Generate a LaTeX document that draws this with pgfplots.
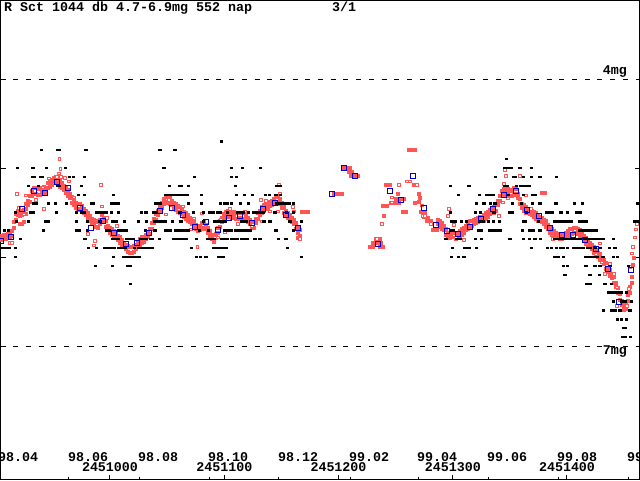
\documentclass[border=0pt]{standalone}
\usepackage{pgfplots}
\pgfplotsset{compat=1.18}
\usepackage{fontspec}
\newfontfamily\pix{Liberation Mono}
\definecolor{rfill}{RGB}{255,85,85}
\definecolor{bsq}{RGB}{0,0,200}
\pgfdeclareplotmark{bdot}{\pgfpathrectangle{\pgfpoint{-1.6pt}{-1.2pt}}{\pgfpoint{3.2pt}{2.4pt}}\pgfusepathqfill}
\pgfdeclareplotmark{rdot}{\pgfpathrectangle{\pgfpoint{-2pt}{-2pt}}{\pgfpoint{4pt}{4pt}}\pgfusepathqfill}
\begin{document}
\begin{tikzpicture}
\useasboundingbox[fill=white] (0,0) rectangle (640pt,480pt);
\begin{axis}[
  at={(0.5pt,0.5pt)}, anchor=south west,
  scale only axis, width=639pt, height=479pt,
  xmin=-95.85, xmax=463.5, ymin=3.118, ymax=8.5, y dir=reverse,
  axis line style={line width=1pt},
  xtick={0,100,200,300,400}, xticklabels={},
  ytick={5,6}, yticklabels={},
  xtick pos=left, ytick pos=both,
  tick align=inside,
  major tick length=5pt,
  tick style={line width=1pt, black},
  extra x ticks={-35.9,25.4,86.7,147.9,210.1,269.9,331.1,392.4,453.7},
  extra x tick labels={},
  extra x tick style={major tick length=3pt, tick style={line width=1pt, black}},
  clip=true,
]
% reference lines 4mg and 7mg
\addplot[black, line width=1pt, dash pattern=on 5pt off 7.7pt, forget plot] coordinates {(-95.85,4) (463.5,4)};
\addplot[black, line width=1pt, dash pattern=on 5pt off 7.7pt, forget plot] coordinates {(-95.85,7) (463.5,7)};

% red filled observations
\addplot[only marks, mark=rdot, color=rfill] coordinates {
(-96.3,5.76)(-96.3,5.81)(-94.5,5.76)(-94.5,5.81)(-92.8,5.75)(-92.8,5.80)(-91.0,5.75)(-91.0,5.80)(-89.3,5.74)(-89.3,5.79)(-87.5,5.73)(-87.5,5.78)(-85.8,5.71)(-85.8,5.76)(-84.0,5.61)(-84.0,5.67)(-82.3,5.52)(-82.3,5.58)(-80.5,5.48)(-80.5,5.53)(-78.8,5.49)(-78.8,5.54)(-78.8,5.63)(-77.0,5.48)(-77.0,5.53)(-77.0,5.63)(-75.3,5.47)(-75.3,5.52)(-75.3,5.61)(-73.5,5.40)(-73.5,5.46)(-73.5,5.52)(-71.8,5.37)(-71.8,5.42)(-70.0,5.32)(-70.0,5.38)(-68.3,5.26)(-68.3,5.32)(-66.5,5.23)(-66.5,5.29)(-64.8,5.23)(-64.8,5.29)(-63.0,5.24)(-63.0,5.30)(-61.3,5.24)(-61.3,5.30)(-59.5,5.22)(-59.5,5.28)(-57.8,5.21)(-57.8,5.27)(-56.0,5.22)(-56.0,5.28)(-54.3,5.17)(-54.3,5.23)(-52.5,5.15)(-52.5,5.21)(-50.8,5.13)(-50.8,5.19)(-49.0,5.11)(-49.0,5.16)(-47.3,5.10)(-47.3,5.15)(-45.5,5.12)(-45.5,5.17)(-43.8,5.15)(-43.8,5.21)(-42.0,5.17)(-42.0,5.23)(-40.3,5.20)(-40.3,5.25)(-38.5,5.22)(-38.5,5.28)(-36.8,5.25)(-36.8,5.31)(-35.0,5.29)(-35.0,5.34)(-33.3,5.33)(-33.3,5.39)(-31.5,5.37)(-31.5,5.42)(-29.8,5.39)(-29.8,5.45)(-28.0,5.40)(-28.0,5.46)(-26.3,5.41)(-26.3,5.47)(-24.5,5.43)(-24.5,5.49)(-22.8,5.46)(-22.8,5.51)(-21.0,5.48)(-21.0,5.53)(-19.3,5.51)(-19.3,5.57)(-17.5,5.54)(-17.5,5.60)(-15.8,5.57)(-15.8,5.62)(-14.0,5.58)(-14.0,5.63)(-12.3,5.60)(-12.3,5.66)(-10.5,5.61)(-10.5,5.67)(-8.8,5.58)(-8.8,5.63)(-7.0,5.53)(-7.0,5.59)(-5.3,5.56)(-5.3,5.61)(-3.5,5.60)(-3.5,5.66)(-1.8,5.65)(-1.8,5.70)(0.0,5.67)(0.0,5.73)(1.8,5.69)(1.8,5.75)(3.5,5.71)(3.5,5.77)(5.3,5.74)(5.3,5.79)(7.0,5.76)(7.0,5.81)(8.8,5.78)(8.8,5.84)(10.5,5.81)(10.5,5.87)(12.3,5.84)(12.3,5.89)(14.0,5.86)(14.0,5.91)(15.8,5.88)(15.8,5.94)(17.5,5.89)(17.5,5.95)(19.3,5.89)(19.3,5.95)(21.0,5.88)(21.0,5.94)(22.8,5.86)(22.8,5.91)(24.5,5.83)(24.5,5.88)(26.3,5.80)(26.3,5.86)(28.0,5.78)(28.0,5.84)(29.8,5.77)(29.8,5.83)(31.5,5.75)(31.5,5.80)(33.3,5.73)(33.3,5.78)(35.0,5.68)(35.0,5.74)(36.8,5.62)(36.8,5.68)(38.5,5.57)(38.5,5.62)(40.3,5.52)(40.3,5.58)(42.0,5.48)(42.0,5.53)(43.8,5.43)(43.8,5.49)
(45.5,5.39)(45.5,5.45)(47.3,5.35)(47.3,5.41)(49.0,5.33)(49.0,5.39)(50.8,5.32)(50.8,5.38)(52.5,5.34)(52.5,5.40)(54.3,5.37)(54.3,5.42)(56.0,5.39)(56.0,5.45)(57.8,5.41)(57.8,5.47)(59.5,5.43)(59.5,5.49)(61.3,5.44)(61.3,5.50)(63.0,5.47)(63.0,5.52)(64.8,5.49)(64.8,5.55)(66.5,5.51)(66.5,5.57)(68.3,5.53)(68.3,5.59)(70.0,5.56)(70.0,5.61)(71.8,5.58)(71.8,5.63)(73.5,5.60)(73.5,5.66)(75.3,5.64)(75.3,5.69)(77.0,5.66)(77.0,5.71)(78.8,5.65)(78.8,5.70)(80.5,5.62)(80.5,5.68)(82.3,5.61)(82.3,5.67)(84.0,5.64)(84.0,5.69)(85.8,5.67)(85.8,5.73)(87.5,5.71)(87.5,5.77)(89.3,5.75)(89.3,5.80)(91.0,5.77)(91.0,5.83)(92.8,5.74)(92.8,5.79)(94.5,5.67)(94.5,5.73)(96.3,5.60)(96.3,5.66)(98.0,5.56)(98.0,5.61)(99.8,5.52)(99.8,5.58)(101.5,5.49)(101.5,5.55)(103.3,5.48)(103.3,5.53)(105.0,5.49)(105.0,5.55)(106.8,5.50)(106.8,5.56)(108.5,5.49)(108.5,5.55)(110.3,5.51)(110.3,5.57)(112.0,5.51)(112.0,5.57)(113.8,5.50)(113.8,5.56)(115.5,5.51)(115.5,5.57)(117.3,5.51)(117.3,5.57)(119.0,5.53)(119.0,5.59)(120.8,5.56)(120.8,5.61)(122.5,5.58)(122.5,5.63)(124.3,5.61)(124.3,5.67)(126.0,5.61)(126.0,5.67)(127.8,5.57)(127.8,5.62)(129.5,5.51)(129.5,5.57)(131.3,5.48)(131.3,5.53)(133.0,5.44)(133.0,5.50)(134.8,5.42)(134.8,5.48)(136.5,5.40)(136.5,5.46)(138.3,5.39)(138.3,5.45)(140.0,5.38)(140.0,5.43)(141.8,5.37)(141.8,5.42)(143.5,5.35)(143.5,5.41)(145.3,5.33)(145.3,5.39)(147.0,5.33)(147.0,5.39)(148.8,5.35)(148.8,5.41)(150.5,5.39)(150.5,5.45)(152.3,5.44)(152.3,5.50)(154.0,5.48)(154.0,5.53)(155.8,5.50)(155.8,5.56)(157.5,5.53)(157.5,5.59)(159.3,5.56)(159.3,5.61)(161.0,5.58)(161.0,5.63)(162.8,5.62)(162.8,5.68)(164.5,5.67)(164.5,5.73)(166.3,5.70)(166.3,5.76)
(164.5,5.79)(168.1,5.49)(170.7,5.49)(173.3,5.49)
(196.1,5.29)(199.6,5.29)(203.1,5.29)(204.8,5.00)(207.5,5.00)(210.1,5.00)(209.2,5.04)(211.8,5.04)(210.9,5.09)(213.6,5.09)(217.1,5.09)(227.6,5.89)(230.2,5.89)(236.3,5.89)(238.9,5.89)(230.2,5.84)(233.7,5.84)(237.2,5.84)(232.8,5.80)(236.3,5.80)(261.7,4.80)(264.3,4.80)(267.0,4.80)(241.6,5.19)(245.1,5.19)(266.1,5.19)(268.7,5.19)(252.1,5.29)(250.3,5.35)(253.8,5.35)(257.3,5.35)(245.9,5.39)(249.4,5.39)(253.0,5.39)(238.9,5.43)(242.5,5.43)(256.5,5.49)(259.1,5.49)(239.8,5.54)(270.5,5.29)(271.3,5.34)(270.5,5.38)(267.0,5.39)(272.2,5.49)(275.7,5.49)(274.8,5.55)(278.3,5.56)(281.0,5.60)(277.5,5.60)(282.7,5.70)(286.2,5.70)
(287.1,5.58)(287.1,5.63)(288.9,5.60)(288.9,5.66)(290.6,5.62)(290.6,5.68)(292.4,5.65)(292.4,5.70)(294.1,5.69)(294.1,5.75)(295.9,5.73)(295.9,5.78)(297.6,5.74)(297.6,5.79)(299.4,5.71)(299.4,5.76)(301.1,5.73)(301.1,5.78)(302.9,5.75)(302.9,5.80)(304.6,5.74)(304.6,5.79)(306.4,5.71)(306.4,5.77)(308.1,5.69)(308.1,5.75)(309.9,5.67)(309.9,5.73)(311.6,5.65)(311.6,5.70)(313.4,5.62)(313.4,5.68)(315.1,5.60)(315.1,5.66)(316.9,5.59)(316.9,5.65)(318.6,5.58)(318.6,5.63)(320.4,5.57)(320.4,5.62)(322.1,5.56)(322.1,5.61)(323.9,5.55)(323.9,5.60)(325.6,5.55)(325.6,5.60)(327.4,5.53)(327.4,5.59)(329.1,5.51)(329.1,5.57)(330.9,5.49)(330.9,5.55)(332.6,5.47)(332.6,5.52)(334.4,5.46)(334.4,5.51)(336.1,5.44)(336.1,5.50)(337.9,5.42)(337.9,5.48)(339.6,5.37)(339.6,5.42)(341.4,5.31)(341.4,5.37)(343.1,5.26)(343.1,5.32)(344.9,5.24)(344.9,5.30)(346.6,5.22)(346.6,5.28)(348.4,5.24)(348.4,5.30)(350.1,5.26)(350.1,5.32)(351.9,5.25)(351.9,5.31)(353.6,5.23)(353.6,5.29)(355.4,5.24)(355.4,5.30)(357.1,5.29)(357.1,5.34)(358.9,5.35)(358.9,5.41)(360.6,5.40)(360.6,5.45)(362.4,5.42)(362.4,5.48)(364.1,5.44)(364.1,5.50)(365.9,5.46)(365.9,5.51)(367.6,5.47)(367.6,5.52)(369.4,5.48)(369.4,5.53)(371.1,5.49)(371.1,5.55)(372.9,5.51)(372.9,5.57)(374.6,5.53)(374.6,5.59)(376.4,5.55)(376.4,5.60)(378.1,5.56)(378.1,5.61)(379.9,5.58)(379.9,5.63)(381.6,5.60)(381.6,5.66)(383.4,5.64)(383.4,5.69)(385.1,5.67)(385.1,5.73)(386.9,5.69)(386.9,5.75)(388.6,5.71)(388.6,5.77)(390.4,5.73)(390.4,5.78)(392.1,5.74)(392.1,5.79)(393.9,5.75)(393.9,5.80)(395.6,5.75)(395.6,5.80)(397.4,5.74)(397.4,5.79)(399.1,5.73)(399.1,5.78)(400.9,5.71)(400.9,5.77)(402.6,5.69)(402.6,5.75)(404.4,5.68)(404.4,5.74)(406.1,5.67)(406.1,5.73)(407.9,5.67)(407.9,5.73)(409.6,5.68)(409.6,5.74)(411.4,5.70)(411.4,5.76)(413.1,5.73)(413.1,5.78)(414.9,5.76)(414.9,5.81)(416.6,5.79)(416.6,5.85)(418.4,5.82)(418.4,5.87)(420.1,5.84)(420.1,5.89)(421.9,5.86)(421.9,5.91)(423.6,5.89)(423.6,5.95)(425.4,5.92)(425.4,5.97)(427.1,5.95)(427.1,6.00)(428.9,5.97)(428.9,6.03)(430.6,6.01)(430.6,6.06)(432.4,6.03)(432.4,6.08)(434.1,6.07)(434.1,6.13)(435.9,6.12)(435.9,6.17)(437.6,6.15)(437.6,6.21)(439.4,6.19)(439.4,6.24)(441.1,6.23)(441.1,6.29)(442.9,6.29)(442.9,6.34)(444.6,6.35)(444.6,6.41)(446.4,6.42)(446.4,6.48)(448.1,6.49)(448.1,6.54)(449.9,6.55)(449.9,6.60)(451.6,6.52)(451.6,6.58)(453.4,6.43)(453.4,6.49)(455.1,6.34)(455.1,6.40)(456.9,6.23)(456.9,6.29)(457.8,6.09)(458.6,6.01)(378.1,5.28)(380.7,5.28)
};

% red open observations
\addplot[only marks, mark=square*, mark size=1.25pt, color=rfill, line width=1pt, mark options={fill=white}] coordinates {
(-44.4,4.90)(-43.5,5.01)(-44.6,5.06)(-42.9,5.10)(-46.4,5.10)(-53.4,5.12)(-39.4,5.11)(-35.9,5.15)(-58.6,5.22)(-64.8,5.36)(-81.4,5.29)(-73.5,5.31)(-57.8,5.46)(-75.3,5.52)(-79.7,5.45)(-7.9,5.19)(-7.0,5.43)(-31.5,5.33)(-19.3,5.60)(-19.3,5.74)(-14.0,5.87)(-13.1,5.82)(-2.6,5.56)(6.1,5.65)(-87.5,5.84)(-85.8,5.84)
(76.4,5.89)(80.5,5.51)(63.9,5.43)(51.6,5.36)(49.0,5.52)(70.9,5.69)(73.5,5.57)(97.2,5.58)(105.0,5.46)(100.7,5.72)(91.9,5.78)(94.5,5.78)(112.0,5.63)(118.2,5.49)(124.3,5.66)(133.0,5.60)(132.2,5.36)(136.5,5.37)(147.9,5.19)(148.8,5.29)(160.2,5.44)(161.1,5.49)(140.0,5.49)(147.0,5.49)(166.3,5.80)
(253.0,5.19)(260.0,5.15)(262.6,5.15)(268.7,5.19)(246.8,5.33)(246.8,5.39)(238.1,5.63)(273.1,5.42)(274.0,5.54)(275.7,5.54)(296.7,5.46)(295.9,5.54)(281.0,5.63)(301.1,5.64)(301.1,5.76)(302.9,5.78)(309.9,5.81)(233.7,5.80)
(345.7,5.02)(346.6,5.09)(344.9,5.18)(358.9,5.09)(348.4,5.34)(364.1,5.31)(344.0,5.39)(340.5,5.54)(368.5,5.46)(387.8,5.80)(428.9,5.85)(425.4,5.97)(430.7,6.06)(433.3,6.19)(437.7,6.08)(441.2,6.19)(443.8,6.34)(443.8,6.55)(452.5,6.55)(454.3,6.36)(455.2,6.11)(456.9,5.96)(457.8,5.89)(459.5,5.78)(460.4,5.69)(461.3,5.63)
};

% black visual estimates
\addplot[only marks, mark=bdot, color=black] coordinates {
(97.7,4.7)
(-59.8,4.8)(-46.1,4.8)(-44.0,4.8)(-21.0,4.8)(43.8,4.8)(56.9,4.8)
(347.2,4.9)
(-80.8,5.0)(-68.0,5.0)(-67.0,5.0)(-55.4,5.0)(-38.8,5.0)(47.3,5.0)(106.5,5.0)(116.1,5.0)(131.9,5.0)(345.8,5.0)(348.6,5.0)(351.6,5.0)(358.9,5.0)(369.1,5.0)
(-68.0,5.1)(-66.0,5.1)(-61.0,5.1)(-59.0,5.1)(-35.6,5.1)(-31.8,5.1)(-22.2,5.1)(74.1,5.1)(106.5,5.1)(110.9,5.1)(337.6,5.1)(353.1,5.1)(354.5,5.1)(361.8,5.1)(369.1,5.1)(376.4,5.1)(391.0,5.1)
(-71.2,5.2)(-62.4,5.2)(-46.0,5.2)(-44.0,5.2)(-25.1,5.2)(52.2,5.2)(61.0,5.2)(62.7,5.2)(68.8,5.2)(110.0,5.2)(145.9,5.2)(148.8,5.2)(298.2,5.2)(314.2,5.2)(345.8,5.2)(347.8,5.2)(356.0,5.2)(359.0,5.2)(362.0,5.2)(365.0,5.2)(366.8,5.2)
(-27.4,5.3)(-22.2,5.3)(3.2,5.3)(48.4,5.3)(51.3,5.3)(54.2,5.3)(57.2,5.3)(60.1,5.3)(63.0,5.3)(66.0,5.3)(68.0,5.3)(80.2,5.3)(110.9,5.3)(117.9,5.3)(124.9,5.3)(136.0,5.3)(139.5,5.3)(145.3,5.3)(149.1,5.3)(305.2,5.3)(323.3,5.3)(329.7,5.3)(332.6,5.3)(335.6,5.3)(348.7,5.3)(361.8,5.3)(370.0,5.3)(372.0,5.3)
(-67.0,5.4)(-64.0,5.4)(-54.0,5.4)(-47.6,5.4)(-38.2,5.4)(-16.0,5.4)(-14.3,5.4)(1.2,5.4)(4.0,5.4)(7.0,5.4)(40.3,5.4)(43.8,5.4)(68.8,5.4)(80.2,5.4)(96.9,5.4)(100.0,5.4)(103.0,5.4)(106.5,5.4)(114.4,5.4)(121.4,5.4)(145.6,5.4)(148.5,5.4)(151.4,5.4)(154.3,5.4)(157.2,5.4)(160.5,5.4)(321.0,5.4)(326.8,5.4)(328.0,5.4)(333.2,5.4)(337.0,5.4)(352.5,5.4)(360.4,5.4)(370.0,5.4)(376.4,5.4)(390.4,5.4)(406.5,5.4)(413.8,5.4)(461.6,5.4)
(-82.9,5.5)(-69.7,5.5)(-67.1,5.5)(-46.7,5.5)(-29.5,5.5)(-24.8,5.5)(-22.5,5.5)(-11.7,5.5)(-8.8,5.5)(-5.9,5.5)(-2.9,5.5)(1.5,5.5)(7.3,5.5)(27.4,5.5)(31.5,5.5)(38.2,5.5)(40.8,5.5)(61.3,5.5)(72.9,5.5)(81.7,5.5)(87.5,5.5)(90.4,5.5)(93.9,5.5)(96.3,5.5)(102.7,5.5)(111.5,5.5)(114.4,5.5)(116.7,5.5)(121.1,5.5)(125.5,5.5)(128.4,5.5)(131.3,5.5)(134.2,5.5)(144.4,5.5)(154.6,5.5)(160.5,5.5)(298.2,5.5)(320.1,5.5)(324.5,5.5)(336.2,5.5)(349.6,5.5)(352.2,5.5)(364.8,5.5)(382.3,5.5)(385.0,5.5)(387.5,5.5)(394.8,5.5)(400.6,5.5)(408.5,5.5)(411.4,5.5)
(-82.0,5.6)(-71.2,5.6)(-56.6,5.6)(-54.0,5.6)(-29.5,5.6)(-19.8,5.6)(-8.8,5.6)(2.0,5.6)(5.2,5.6)(12.8,5.6)(25.1,5.6)(31.8,5.6)(38.8,5.6)(40.3,5.6)(43.2,5.6)(46.1,5.6)(48.1,5.6)(54.8,5.6)(62.1,5.6)(81.7,5.6)(91.9,5.6)(94.8,5.6)(97.7,5.6)(100.7,5.6)(115.2,5.6)(118.1,5.6)(119.6,5.6)(134.8,5.6)(140.0,5.6)(157.6,5.6)(167.8,5.6)(299.4,5.6)(302.6,5.6)(307.8,5.6)(312.2,5.6)(323.9,5.6)(326.8,5.6)(331.2,5.6)(335.6,5.6)(340.8,5.6)(361.8,5.6)(363.3,5.6)(375.0,5.6)(389.6,5.6)(392.3,5.6)(394.0,5.6)(396.9,5.6)(399.6,5.6)(401.2,5.6)(404.1,5.6)(411.4,5.6)(414.4,5.6)(416.7,5.6)(459.6,5.6)(462.5,5.6)
(-92.2,5.7)(-89.0,5.7)(-58.4,5.7)(-29.2,5.7)(-26.8,5.7)(-19.8,5.7)(-3.2,5.7)(-0.9,5.7)(7.3,5.7)(10.2,5.7)(13.1,5.7)(14.6,5.7)(31.2,5.7)(39.4,5.7)(48.7,5.7)(51.6,5.7)(52.5,5.7)(57.8,5.7)(60.7,5.7)(63.6,5.7)(66.5,5.7)(69.0,5.7)(78.2,5.7)(86.1,5.7)(100.7,5.7)(103.6,5.7)(106.5,5.7)(110.3,5.7)(113.2,5.7)(116.1,5.7)(119.0,5.7)(122.5,5.7)(145.3,5.7)(160.5,5.7)(298.2,5.7)(300.5,5.7)(322.4,5.7)(325.4,5.7)(332.7,5.7)(335.6,5.7)(338.5,5.7)(341.4,5.7)(361.0,5.7)(367.7,5.7)(370.6,5.7)(376.4,5.7)(411.4,5.7)(414.3,5.7)(417.2,5.7)(420.2,5.7)(423.1,5.7)(426.0,5.7)
(-78.2,5.8)(-21.9,5.8)(2.0,5.8)(5.0,5.8)(7.3,5.8)(14.6,5.8)(17.5,5.8)(20.4,5.8)(26.5,5.8)(29.4,5.8)(32.3,5.8)(35.3,5.8)(37.3,5.8)(43.2,5.8)(56.0,5.8)(59.0,5.8)(62.0,5.8)(64.5,5.8)(66.5,5.8)(75.9,5.8)(85.2,5.8)(88.1,5.8)(91.0,5.8)(97.7,5.8)(100.7,5.8)(102.7,5.8)(106.5,5.8)(109.4,5.8)(111.5,5.8)(115.2,5.8)(118.1,5.8)(120.2,5.8)(126.9,5.8)(131.3,5.8)(147.3,5.8)(154.0,5.8)(294.1,5.8)(303.4,5.8)(306.4,5.8)(320.1,5.8)(325.4,5.8)(350.2,5.8)(361.8,5.8)(367.1,5.8)(372.0,5.8)(377.0,5.8)(389.6,5.8)(392.5,5.8)(395.4,5.8)(398.3,5.8)(401.2,5.8)(404.1,5.8)(407.0,5.8)(410.0,5.8)(412.9,5.8)(415.8,5.8)(418.7,5.8)(421.6,5.8)(424.5,5.8)(427.0,5.8)(429.8,5.8)(432.0,5.8)(440.6,5.8)
(-94.5,5.9)(-91.5,5.9)(-88.4,5.9)(-82.6,5.9)(-18.7,5.9)(-11.7,5.9)(-4.7,5.9)(-1.8,5.9)(1.1,5.9)(3.8,5.9)(7.3,5.9)(10.2,5.9)(13.1,5.9)(21.3,5.9)(24.8,5.9)(26.8,5.9)(29.7,5.9)(32.6,5.9)(35.5,5.9)(37.3,5.9)(71.5,5.9)(90.4,5.9)(93.3,5.9)(96.3,5.9)(99.2,5.9)(102.1,5.9)(155.2,5.9)(299.6,5.9)(310.7,5.9)(314.2,5.9)(321.0,5.9)(369.1,5.9)(382.8,5.9)(386.6,5.9)(391.0,5.9)(394.0,5.9)(397.0,5.9)(400.6,5.9)(405.6,5.9)(408.5,5.9)(411.4,5.9)(414.4,5.9)(417.9,5.9)(420.8,5.9)(424.6,5.9)(429.0,5.9)(437.1,5.9)(442.1,5.9)
(-82.9,6.0)(3.2,6.0)(12.2,6.0)(14.6,6.0)(16.9,6.0)(19.8,6.0)(22.7,6.0)(25.7,6.0)(75.9,6.0)(79.4,6.0)(84.0,6.0)(94.8,6.0)(97.7,6.0)(99.2,6.0)(167.8,6.0)(299.0,6.0)(305.2,6.0)(309.9,6.0)(389.6,6.0)(392.5,6.0)(396.9,6.0)(416.7,6.0)(419.6,6.0)(422.5,6.0)(424.6,6.0)(427.0,6.0)(431.5,6.0)(440.6,6.0)(444.1,6.0)
(-12.6,6.1)(2.3,6.1)(15.2,6.1)(17.5,6.1)(396.9,6.1)(400.4,6.1)(416.7,6.1)(424.6,6.1)(429.0,6.1)(437.7,6.1)(453.8,6.1)
(398.3,6.2)(420.2,6.2)(428.4,6.2)
(18.1,6.3)(417.3,6.3)(420.2,6.3)(433.3,6.3)(439.2,6.3)
(436.2,6.4)(439.2,6.4)(442.1,6.4)(445.0,6.4)(447.9,6.4)(452.3,6.4)
(440.6,6.5)(447.9,6.5)(450.8,6.5)(456.7,6.5)
(431.9,6.6)(439.2,6.6)(442.1,6.6)(446.5,6.6)(455.2,6.6)
(444.4,6.7)(447.9,6.7)(452.3,6.7)
(449.4,6.8)(450.8,6.8)
(448.8,6.9)(450.8,6.9)(455.9,6.9)
};

% blue 10-day means
\addplot[only marks, mark=square, mark size=2.5pt, color=bsq, line width=1.1pt] coordinates {
(-95.4,5.82)(-86.7,5.78)(-77.0,5.46)(-66.5,5.26)(-56.9,5.28)(-46.4,5.16)(-36.8,5.22)(-26.3,5.45)(-16.6,5.67)(-6.1,5.60)(3.5,5.73)(14.0,5.85)(23.6,5.84)(34.1,5.73)(43.8,5.48)(54.3,5.45)(63.9,5.53)(74.4,5.66)(84.0,5.61)(94.5,5.70)(104.2,5.56)(113.8,5.54)(124.3,5.62)(133.9,5.46)(144.4,5.39)(154.1,5.53)(164.6,5.67)(194.3,5.29)(204.8,5.00)(214.4,5.09)(234.6,5.85)(245.1,5.26)(254.7,5.36)(265.2,5.09)(274.8,5.45)(285.3,5.64)(295.0,5.71)(304.6,5.74)(315.1,5.66)(324.7,5.57)(335.2,5.46)(344.9,5.30)(355.4,5.26)(365.0,5.47)(375.5,5.54)(385.1,5.67)(395.6,5.75)(405.3,5.75)(415.8,5.81)(425.4,5.91)(435.9,6.13)(445.5,6.51)(456.0,6.15)
};
\end{axis}
\begin{scope}[every node/.style={inner sep=0pt, font=\pix\bfseries\fontsize{13.33pt}{14pt}\selectfont}]
\node[anchor=base west] at (4pt,468pt) {R Sct 1044 db 4.7-6.9mg 552 nap};
\node[anchor=base west] at (332pt,468pt) {3/1};
\node[anchor=base east] at (627pt,405pt) {4mg};
\node[anchor=base east] at (627pt,126pt) {7mg};
\node[anchor=base west] at (-2pt,19pt) {98.04};
\node[anchor=base west] at (68pt,19pt) {98.06};
\node[anchor=base west] at (138pt,19pt) {98.08};
\node[anchor=base west] at (208pt,19pt) {98.10};
\node[anchor=base west] at (278pt,19pt) {98.12};
\node[anchor=base west] at (349pt,19pt) {99.02};
\node[anchor=base west] at (417pt,19pt) {99.04};
\node[anchor=base west] at (487pt,19pt) {99.06};
\node[anchor=base west] at (557pt,19pt) {99.08};
\node[anchor=base west] at (627pt,19pt) {99.10};
\node[anchor=base] at (110pt,9pt) {2451000};
\node[anchor=base] at (224.3pt,9pt) {2451100};
\node[anchor=base] at (338.5pt,9pt) {2451200};
\node[anchor=base] at (452.8pt,9pt) {2451300};
\node[anchor=base] at (567pt,9pt) {2451400};
\end{scope}
\end{tikzpicture}
\end{document}
